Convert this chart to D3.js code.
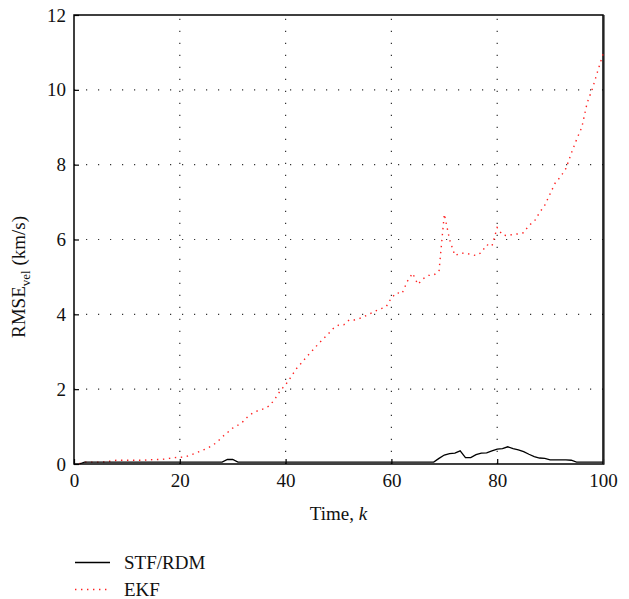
<!DOCTYPE html>
<html><head><meta charset="utf-8">
<script src="https://cdn.jsdelivr.net/npm/d3@7"></script>
<style>
html,body{margin:0;padding:0;background:#fff;}
</style></head>
<body><div id="chart"></div>
<script>
const timeSteps = [1,2,3,4,5,6,7,8,9,10,11,12,13,14,15,16,17,18,19,20,21,22,23,24,25,26,27,28,29,30,31,32,33,34,35,36,37,38,39,40,41,42,43,44,45,46,47,48,49,50,51,52,53,54,55,56,57,58,59,60,61,62,63,64,65,66,67,68,69,70,71,72,73,74,75,76,77,78,79,80,81,82,83,84,85,86,87,88,89,90,91,92,93,94,95,96,97,98,99,100];
const stfRdm = [0,0.05,0.05,0.05,0.05,0.05,0.05,0.05,0.05,0.05,0.05,0.05,0.05,0.05,0.05,0.05,0.05,0.05,0.05,0.05,0.05,0.05,0.05,0.05,0.05,0.05,0.05,0.05,0.12,0.12,0.05,0.05,0.05,0.05,0.05,0.05,0.05,0.05,0.05,0.05,0.05,0.05,0.05,0.05,0.05,0.05,0.05,0.05,0.05,0.05,0.05,0.05,0.05,0.05,0.05,0.05,0.05,0.05,0.05,0.05,0.05,0.05,0.05,0.05,0.05,0.05,0.05,0.05,0.15,0.24,0.28,0.29,0.35,0.17,0.17,0.25,0.29,0.3,0.35,0.4,0.41,0.46,0.41,0.38,0.33,0.26,0.2,0.16,0.15,0.11,0.11,0.11,0.11,0.1,0.05,0.05,0.05,0.05,0.05,0.05];
const ekf = [0.01,0.05,0.05,0.05,0.05,0.06,0.08,0.1,0.1,0.1,0.1,0.1,0.1,0.11,0.12,0.12,0.13,0.15,0.17,0.18,0.19,0.24,0.29,0.35,0.41,0.48,0.58,0.72,0.84,0.96,1.04,1.14,1.29,1.38,1.44,1.48,1.56,1.74,1.96,2.12,2.32,2.54,2.7,2.87,3.02,3.18,3.33,3.47,3.62,3.71,3.72,3.85,3.85,3.89,3.95,4.02,4.09,4.15,4.2,4.44,4.58,4.55,4.88,5.1,4.8,4.95,5.04,5.05,5.15,6.68,6.0,5.57,5.63,5.64,5.6,5.57,5.65,5.86,5.82,6.32,6.12,6.1,6.14,6.15,6.18,6.38,6.48,6.72,6.92,7.22,7.52,7.68,7.9,8.3,8.67,9.0,9.65,10.03,10.5,10.95];
const xTicks = [0,20,40,60,80,100];
const yTicks = [0,2,4,6,8,10,12];
const seriesNames = ["STF/RDM","EKF"];

const FONT = "'Liberation Serif', 'DejaVu Serif', serif";
const W = 629, H = 599;
const m = {left:74, right:603, top:15, bottom:464};
const svg = d3.select("#chart").append("svg").attr("width",W).attr("height",H)
  .style("font-family",FONT);

const x = d3.scaleLinear().domain([0,100]).range([m.left,m.right]);
const y = d3.scaleLinear().domain([0,12]).range([m.bottom,m.top]);

// grid
const grid = svg.append("g");
grid.selectAll("line.gx").data(xTicks.filter(d=>d>0&&d<100)).join("line")
  .attr("x1",d=>x(d)).attr("x2",d=>x(d)).attr("y1",m.bottom).attr("y2",m.top)
  .attr("stroke","#333").attr("stroke-width",1.2).attr("stroke-dasharray","1.2 10.8");
grid.selectAll("line.gy").data(yTicks.filter(d=>d>0&&d<12)).join("line")
  .attr("y1",d=>y(d)).attr("y2",d=>y(d)).attr("x1",m.left).attr("x2",m.right)
  .attr("stroke","#333").attr("stroke-width",1.2).attr("stroke-dasharray","1.2 10.8");

// axes
const xAxis = d3.axisBottom(x).tickValues(xTicks).tickSize(-5).tickPadding(10).tickFormat(d3.format("d"));
const yAxis = d3.axisLeft(y).tickValues(yTicks).tickSize(-5).tickPadding(8).tickFormat(d3.format("d"));
const gx = svg.append("g").attr("transform",`translate(0,${m.bottom})`).call(xAxis);
const gy = svg.append("g").attr("transform",`translate(${m.left},0)`).call(yAxis);
[gx,gy].forEach(g=>{
  g.attr("font-family",null).attr("font-size",null);
  g.select(".domain").remove();
  g.selectAll(".tick line").attr("stroke","#000").attr("stroke-width",1.2);
  g.selectAll(".tick text").style("font-family",FONT).style("font-size","19px").attr("fill","#111");
});

// frame
svg.append("rect").attr("x",m.left).attr("y",m.top).attr("width",m.right-m.left).attr("height",m.bottom-m.top)
  .attr("fill","none").attr("stroke","#000").attr("stroke-width",1.5);
svg.append("line").attr("x1",m.right+0.8).attr("x2",m.right+0.8).attr("y1",m.top).attr("y2",m.bottom+0.8)
  .attr("stroke","#222").attr("stroke-width",1.6);

// lines
const pts = (vals)=>timeSteps.map((k,i)=>[k,vals[i]]);
const line = d3.line().x(d=>x(d[0])).y(d=>y(d[1]));
svg.append("path").attr("d",line(pts(ekf))).attr("fill","none")
  .attr("stroke","#ff2020").attr("stroke-width",1.4).attr("stroke-dasharray","1.4 4.6");
svg.append("path").attr("d",line(pts(stfRdm))).attr("fill","none")
  .attr("stroke","#000").attr("stroke-width",1.3);

// axis labels
const xl = svg.append("text").attr("x",(m.left+m.right)/2).attr("y",520).attr("text-anchor","middle")
  .style("font-family",FONT).style("font-size","19px").attr("fill","#111");
xl.append("tspan").text("Time, ");
xl.append("tspan").attr("font-style","italic").text("k");

const yl = svg.append("text").attr("transform","translate(25,277) rotate(-90)").attr("text-anchor","middle")
  .style("font-family",FONT).style("font-size","19px").attr("fill","#111");
yl.append("tspan").text("RMSE");
yl.append("tspan").attr("dy",5).style("font-size","13px").text("vel");
yl.append("tspan").attr("dy",-5).text(" (km/s)");

// legend
const leg = svg.append("g");
seriesNames.forEach((name,i)=>{
  const ly = 562.5 + i*27;
  leg.append("line").attr("x1",75).attr("x2",110).attr("y1",ly).attr("y2",ly)
    .attr("stroke", i===0?"#000":"#ff2020").attr("stroke-width", i===0?1.3:1.4)
    .attr("stroke-dasharray", i===0?null:"1.4 4.6");
  leg.append("text").attr("x",124).attr("y",ly+6.5).style("font-family",FONT).style("font-size","19px")
    .attr("fill","#111").text(name);
});
</script></body></html>
